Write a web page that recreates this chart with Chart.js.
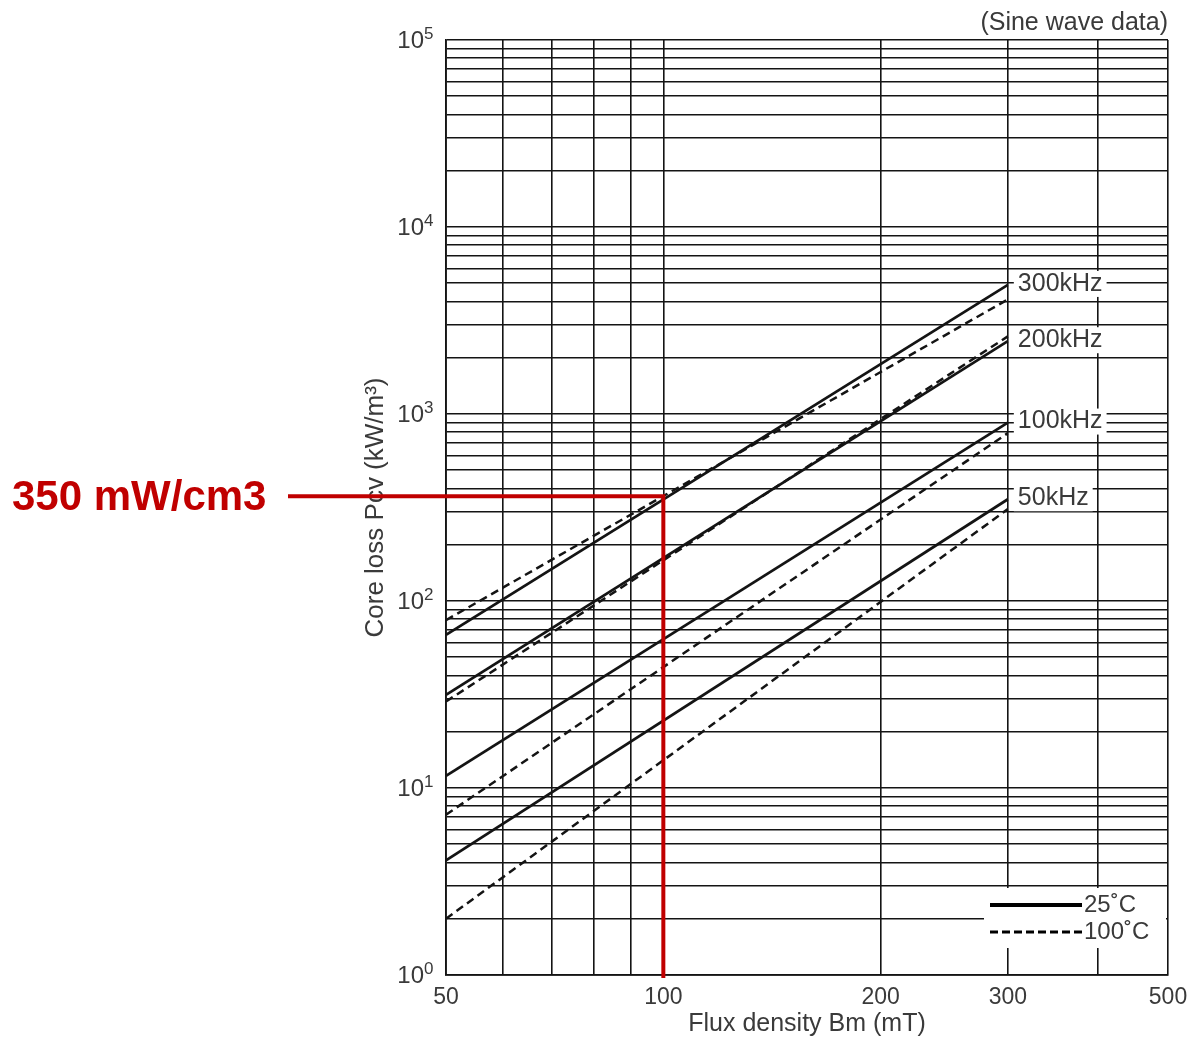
<!DOCTYPE html>
<html>
<head>
<meta charset="utf-8">
<script src="https://cdn.jsdelivr.net/npm/chart.js@4.4.1/dist/chart.umd.min.js"></script>
<style>
  html, body { margin: 0; padding: 0; background: #fff; }
</style>
</head>
<body>
<canvas id="chart" width="1193" height="1042"></canvas>
<script>
// core loss vs flux density, log-log
const bmPoints = [50, 300];                       // mT, line end points
const freqLabels = ['300kHz', '200kHz', '100kHz', '50kHz'];
const loss25C  = [[66, 4900], [31.5, 2450], [11.6, 900], [4.1, 350]];   // kW/m3
const loss100C = [[79, 4100], [29, 2600],   [7.2, 790],  [2.0, 310]];
const xGrid = [50, 60, 70, 80, 90, 100, 200, 300, 400, 500];
const xTickLabels = [50, 100, 200, 300, 500];
const yDecades = [1, 10, 100, 1000, 10000, 100000];
const yExponents = ['0', '1', '2', '3', '4', '5'];
const legendLabels = ['25˚C', '100˚C'];
const markBm = 100, markLoss = 350;
const markText = '350 mW/cm3';

const INK = '#141414';
const TXT = '#3a3a3a';
const FONT = '"Liberation Sans", Arial, sans-serif';

function yGrid(){
  const out = [];
  for(let d = 1; d < 100000; d *= 10){
    for(let k = 1; k < 10; k++) out.push(k * d);
  }
  out.push(100000);
  return out;
}

const datasets = [];
freqLabels.forEach((f, i) => {
  datasets.push({label: f + ' 25C', data: bmPoints.map((b, j) => ({x: b, y: loss25C[i][j]})),
    borderColor: INK, borderWidth: 2.7, pointRadius: 0, fill: false});
});
freqLabels.forEach((f, i) => {
  datasets.push({label: f + ' 100C', data: bmPoints.map((b, j) => ({x: b, y: loss100C[i][j]})),
    borderColor: INK, borderWidth: 2.5, borderDash: [8, 5], pointRadius: 0, fill: false});
});

const extras = {
  id: 'extras',
  afterDatasetsDraw(chart){
    const {ctx, chartArea: a, scales: {x, y}} = chart;
    ctx.save();

    // y decade labels 10^n
    yDecades.forEach((v, i) => {
      const py = y.getPixelForValue(v);
      ctx.fillStyle = TXT;
      ctx.textBaseline = 'middle';
      ctx.textAlign = 'right';
      ctx.font = '24px ' + FONT;
      ctx.fillText('10', a.left - 22, py + 1);
      ctx.textAlign = 'left';
      ctx.font = '17px ' + FONT;
      ctx.fillText(yExponents[i], a.left - 22, py - 6);
    });

    // frequency labels at the right end of each line
    ctx.textBaseline = 'middle';
    ctx.textAlign = 'left';
    ctx.font = '25px ' + FONT;
    freqLabels.forEach((f, i) => {
      const px = x.getPixelForValue(bmPoints[1]) + 10;
      const py = y.getPixelForValue(loss25C[i][1]) - 1;
      const w = ctx.measureText(f).width;
      ctx.fillStyle = '#fff';
      ctx.fillRect(px - 4, py - 13, w + 8, 26);
      ctx.fillStyle = TXT;
      ctx.fillText(f, px, py);
    });

    // legend box, bottom right
    const lx = 984, ly = 888;
    ctx.fillStyle = '#fff';
    ctx.fillRect(lx, ly, a.right - lx - 2, 60);
    ctx.strokeStyle = '#000';
    ctx.lineWidth = 4;
    ctx.beginPath(); ctx.moveTo(lx + 6, ly + 17); ctx.lineTo(lx + 98, ly + 17); ctx.stroke();
    ctx.lineWidth = 3;
    ctx.setLineDash([8, 4]);
    ctx.beginPath(); ctx.moveTo(lx + 6, ly + 44); ctx.lineTo(lx + 98, ly + 44); ctx.stroke();
    ctx.setLineDash([]);
    ctx.fillStyle = TXT;
    ctx.font = '24px ' + FONT;
    ctx.fillText(legendLabels[0], lx + 100, ly + 17);
    ctx.fillText(legendLabels[1], lx + 100, ly + 44);

    // caption
    ctx.textAlign = 'right';
    ctx.textBaseline = 'alphabetic';
    ctx.font = '25px ' + FONT;
    ctx.fillText('(Sine wave data)', a.right, 30);

    // red marker
    const mx = x.getPixelForValue(markBm);
    const my = y.getPixelForValue(markLoss) - 3;
    ctx.strokeStyle = '#c00000';
    ctx.lineWidth = 4;
    ctx.beginPath();
    ctx.moveTo(288, my); ctx.lineTo(mx, my); ctx.lineTo(mx, a.bottom + 3);
    ctx.stroke();
    ctx.fillStyle = '#c00000';
    ctx.textAlign = 'left';
    ctx.textBaseline = 'middle';
    ctx.font = 'bold 42px ' + FONT;
    ctx.fillText(markText, 12, my + 2);
    ctx.restore();
  }
};

new Chart(document.getElementById('chart'), {
  type: 'line',
  data: {datasets},
  plugins: [extras],
  options: {
    responsive: false,
    animation: false,
    layout: {padding: {left: 360, right: 8, top: 40, bottom: 0}},
    plugins: {legend: {display: false}, tooltip: {enabled: false}},
    scales: {
      x: {
        type: 'logarithmic', min: 50, max: 500,
        afterBuildTicks: s => { s.ticks = xGrid.map(v => ({value: v})); },
        afterFit: s => { s.height = 67; s.paddingRight = 25; },
        grid: {color: INK, lineWidth: 1.6, drawTicks: false},
        border: {color: INK, width: 1.8},
        ticks: {autoSkip: false, maxRotation: 0, padding: 9, color: TXT,
          font: {family: FONT, size: 23},
          callback: v => xTickLabels.includes(v) ? String(v) : ''},
        title: {display: true, text: 'Flux density Bm (mT)', color: TXT,
          font: {family: FONT, size: 25}, padding: {top: 0, bottom: 3}}
      },
      y: {
        type: 'logarithmic', min: 1, max: 100000,
        afterBuildTicks: s => { s.ticks = yGrid().map(v => ({value: v})); },
        afterFit: s => { s.width = 86; },
        grid: {color: INK, lineWidth: 1.6, drawTicks: false},
        border: {color: INK, width: 1.8},
        ticks: {autoSkip: false, padding: 8, callback: () => ''},
        title: {display: true, text: 'Core loss Pcv (kW/m³)', color: TXT,
          font: {family: FONT, size: 26}, padding: {top: 0, bottom: 0}}
      }
    }
  }
});
</script>
</body>
</html>
